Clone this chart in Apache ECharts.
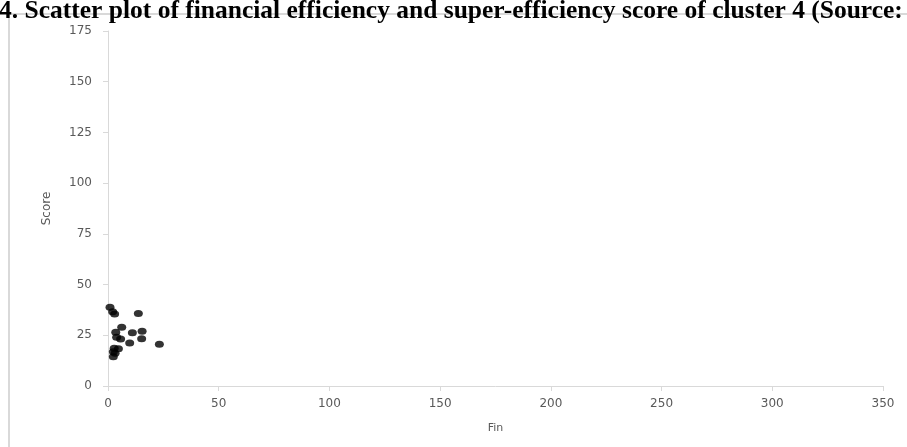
<!DOCTYPE html>
<html><head><meta charset="utf-8">
<script src="https://cdn.jsdelivr.net/npm/echarts@6/dist/echarts.min.js"></script>
<style>html,body{margin:0;padding:0;background:#fff}#c{width:907px;height:447px}</style>
</head><body><div id="c"></div>
<script>
var finValues = [0.9, 2.1, 3.0, 13.7, 6.2, 3.5, 11.0, 15.4, 3.9, 5.7, 15.2, 9.8, 23.2, 2.8, 4.7, 2.4, 3.2, 2.4];
var scoreValues = [38.8, 36.6, 35.5, 35.8, 28.9, 26.5, 26.3, 27.0, 24.0, 23.2, 23.3, 21.2, 20.6, 18.6, 18.4, 16.9, 16.1, 14.4];
var titleText = "4. Scatter plot of financial efficiency and super-efficiency score of cluster 4 (Source:";
var xName = "Fin", yName = "Score";

var pts = finValues.map(function(v,i){return [v, scoreValues[i]];});
var chart = echarts.init(document.getElementById('c'));
var lbl = {color:'#595959', fontFamily:'DejaVu Sans', fontSize:12};
chart.setOption({
  animation:false,
  title:{text:titleText, left:-6, top:-7, textStyle:{fontFamily:'Liberation Serif', fontWeight:'bold', fontSize:25.5, color:'#000'}},
  graphic:[{type:'rect', shape:{x:9, y:14, width:910, height:440}, style:{fill:null, stroke:'#d9d9d9', lineWidth:2}, z:-1}],
  grid:{left:108, right:24, top:31, bottom:61},
  xAxis:{type:'value', min:0, max:350, interval:50, name:xName, nameLocation:'middle', nameGap:37,
    nameTextStyle:{color:'#595959', fontFamily:'DejaVu Sans', fontSize:11}, axisLabel:Object.assign({margin:12},lbl),
    axisLine:{show:true, lineStyle:{color:'#d9d9d9'}}, axisTick:{show:true, length:5, lineStyle:{color:'#d9d9d9'}}, splitLine:{show:false}},
  yAxis:{type:'value', min:0, max:175, interval:25, name:yName, nameLocation:'middle', nameGap:55, nameRotate:90,
    nameTextStyle:{color:'#595959', fontFamily:'DejaVu Sans', fontSize:12}, axisLabel:Object.assign({margin:16},lbl),
    axisLine:{show:true, lineStyle:{color:'#d9d9d9'}}, axisTick:{show:true, length:5, lineStyle:{color:'#d9d9d9'}}, splitLine:{show:false}},
  series:[{type:'scatter', data:pts, symbol:'circle', symbolSize:[9,7], itemStyle:{color:'#000'}}]
});
</script></body></html>
